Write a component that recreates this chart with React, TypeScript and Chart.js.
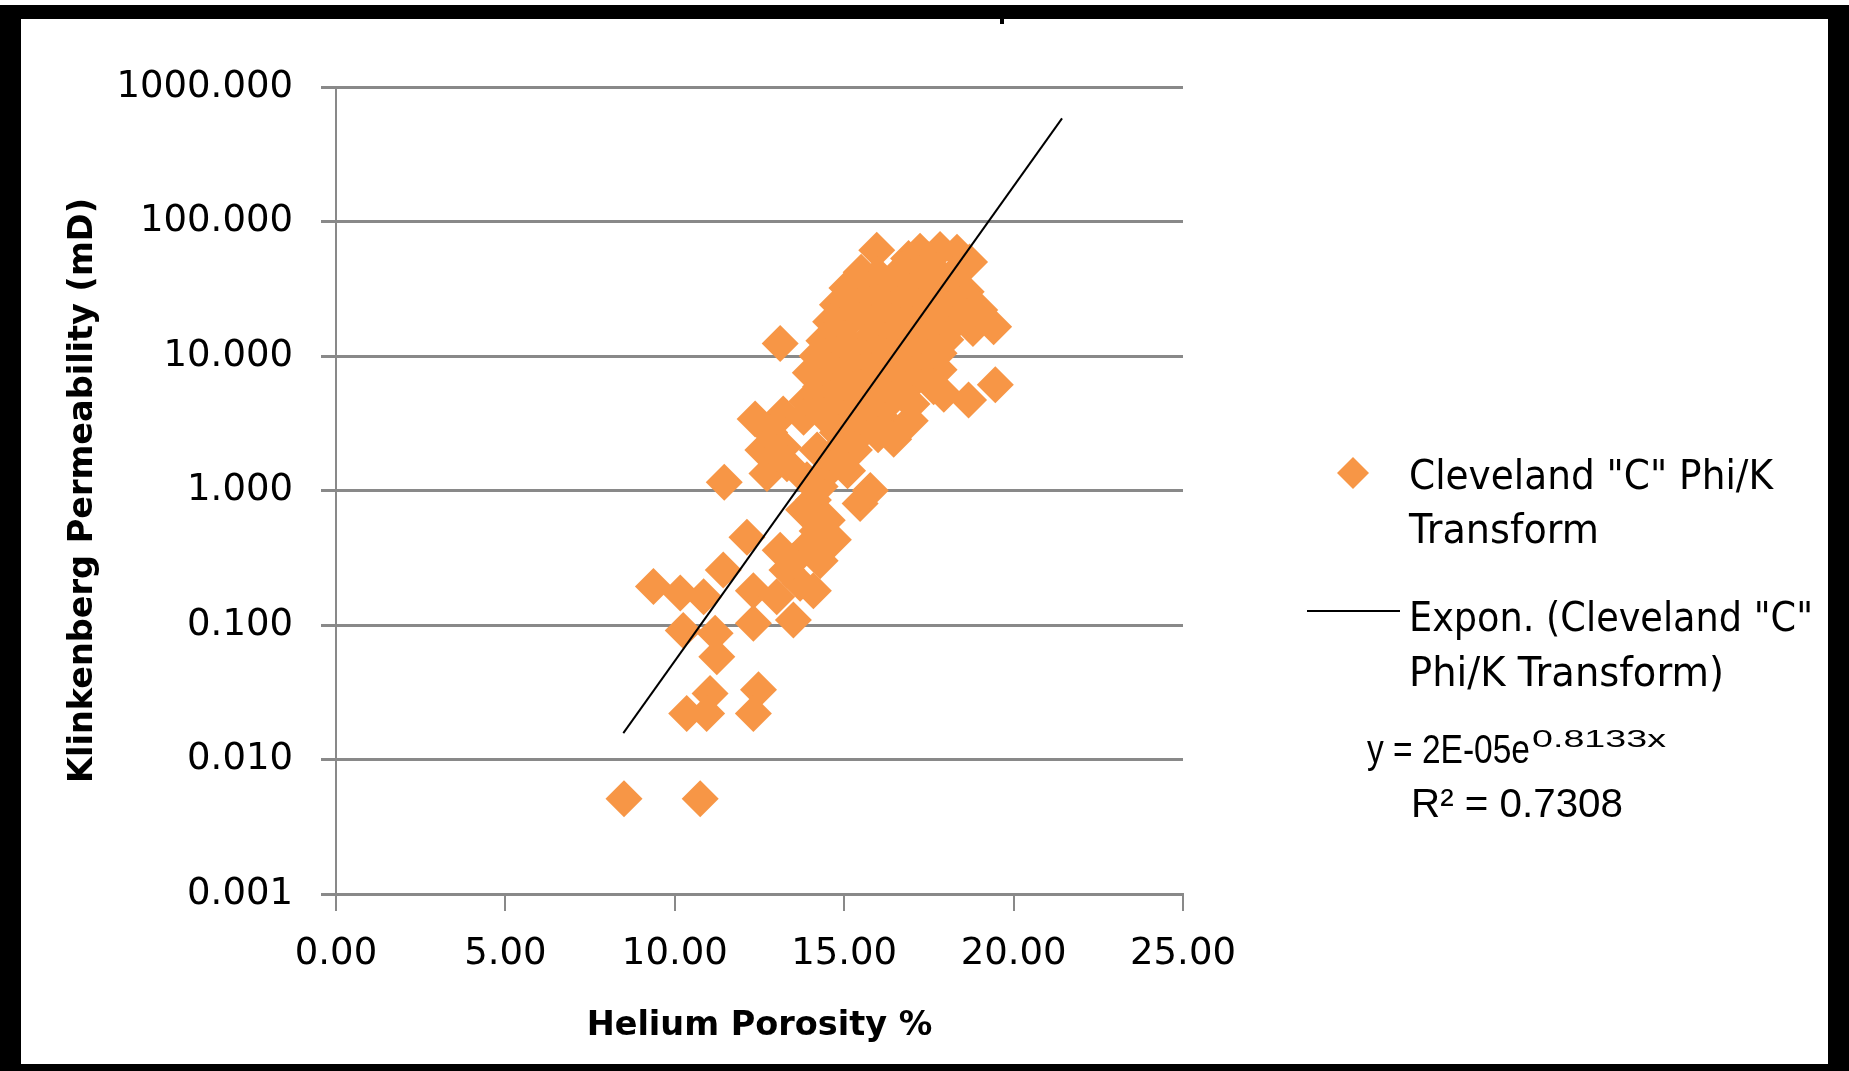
import React, { useEffect, useRef } from "react";
import { Chart, registerables } from "chart.js";

Chart.register(...registerables);

// ---- data ----
const porosity = [
  // upper cluster
  15.96, 17.24, 17.83, 18.33,
  16.9, 17.5, 18.7,
  15.5, 16.0, 16.7, 17.2, 17.7, 18.2,
  15.08, 15.7, 16.3, 16.9, 17.5, 18.1, 18.6,
  14.8, 15.4, 16.0, 16.6, 17.2, 17.8, 18.4, 19.0,
  14.6, 15.2, 15.8, 16.4, 17.0, 17.6, 18.2, 18.8, 19.41, 18.62,
  14.4, 15.0, 15.6, 16.2, 16.8, 17.4, 18.0, 13.11,
  14.2, 14.8, 15.4, 16.0, 16.6, 17.2, 17.8,
  14.0, 14.6, 15.2, 15.8, 16.4, 17.0, 17.8,
  14.3, 14.9, 15.5, 16.1, 16.8, 17.64, 17.94, 19.46,
  13.9, 14.6, 15.2, 15.8, 16.4, 17.0, 18.67,
  12.37, 13.2, 13.8, 14.4, 15.0, 15.6, 16.2, 16.95,
  12.8, 14.8, 15.4, 16.0, 16.46,
  12.6, 13.2, 14.2, 14.7, 15.3,
  12.72, 13.31, 13.01, 14.6, 15.1,
  // lower cluster
  8.5, 10.75, 9.37, 10.16, 10.85, 10.25, 11.19, 11.24, 11.04, 10.35, 10.94,
  12.47, 12.32, 12.13, 11.43, 12.32, 12.32, 13.5, 13.01, 13.31, 13.7, 14.09,
  14.68, 14.29, 13.9, 13.5, 13.11, 14.09, 14.29, 13.8, 15.47, 15.77, 11.46,
  14.5, 13.9, 14.2,
];
const permeability = [
  61, 60, 62, 59,
  53, 52, 50,
  42, 40, 44, 41, 43, 40,
  32, 31, 33, 30, 32, 31, 30,
  24, 23, 25, 24, 23, 25, 24, 22,
  18, 18.5, 17.5, 18, 17, 18, 17, 16, 16.5, 19.6,
  13, 13.5, 12.5, 13, 13.5, 12.8, 13.2, 12.4,
  10, 10.2, 9.8, 10.3, 9.7, 10, 10.5,
  7.5, 7.8, 7.4, 7.7, 7.6, 7.3, 7.9,
  5.9, 6.0, 5.8, 6.1, 5.6, 5.9, 5.2, 6.1,
  4.6, 4.8, 4.7, 4.5, 4.7, 4.4, 4.7,
  3.4, 3.7, 3.5, 3.6, 3.4, 3.5, 3.3, 3.3,
  2.7, 2.7, 2.5, 2.6, 2.4,
  2.0, 2.1, 2.0, 1.9, 2.0,
  1.34, 1.58, 1.9, 1.45, 1.4,
  0.0051, 0.0051, 0.193, 0.173, 0.162, 0.091, 0.087, 0.058, 0.031, 0.022, 0.022,
  0.033, 0.022, 0.45, 0.256, 0.18, 0.103, 0.109, 0.162, 0.256, 0.204, 0.18,
  0.43, 0.30, 0.38, 0.30, 0.36, 0.85, 1.07, 0.72, 0.80, 1.0, 1.15,
  0.6, 1.2, 0.5,
];
const trendPorosity = [8.48, 21.43];
const trendPermeability = [0.0157, 585];

const xTickValues = [0, 5, 10, 15, 20, 25];
const yTickValues = [0.001, 0.01, 0.1, 1, 10, 100, 1000];

const xTitle = "Helium Porosity %";
const yTitle = "Klinkenberg Permeability (mD)";
const seriesLegendLines = ['Cleveland "C" Phi/K', "Transform"];
const trendLegendLines = ['Expon. (Cleveland "C"', "Phi/K Transform)"];
const equationMain = "y = 2E-05e";
const equationExp = "0.8133x";
const rSquaredText = "R\u00B2 = 0.7308";

const ORANGE = "#F79646";
const GRID = "#898989";
const W = 1849;
const H = 1071;

function fitText(ctx: CanvasRenderingContext2D, text: string, x: number, y: number, targetW: number) {
  const w = ctx.measureText(text).width;
  const s = w > 0 ? targetW / w : 1;
  ctx.save();
  ctx.translate(x, y);
  ctx.scale(s, 1);
  ctx.textAlign = "left";
  ctx.textBaseline = "alphabetic";
  ctx.fillText(text, 0, 0);
  ctx.restore();
}

const framePlugin = {
  id: "frame",
  beforeDraw(chart: any) {
    const ctx = chart.ctx;
    ctx.save();
    ctx.fillStyle = "#ffffff";
    ctx.fillRect(0, 0, W, H);
    ctx.restore();
  },
  afterDraw(chart: any) {
    const ctx = chart.ctx;
    ctx.save();
    ctx.fillStyle = "#000";
    ctx.fillRect(0, 5, W, 14);
    ctx.fillRect(0, 5, 21, H - 5);
    ctx.fillRect(1828, 5, 21, H - 5);
    ctx.fillRect(0, 1064, W, 7);
    ctx.fillRect(1000, 19, 4, 5);
    ctx.restore();
  },
};

const legendPlugin = {
  id: "customLegend",
  afterDraw(chart: any) {
    const ctx = chart.ctx;
    ctx.save();
    // marker
    const cx = 1353, cy = 473, r = 16;
    ctx.fillStyle = ORANGE;
    ctx.beginPath();
    ctx.moveTo(cx - r, cy);
    ctx.lineTo(cx, cy - r);
    ctx.lineTo(cx + r, cy);
    ctx.lineTo(cx, cy + r);
    ctx.closePath();
    ctx.fill();
    // trend line sample
    ctx.strokeStyle = "#000";
    ctx.lineWidth = 2;
    ctx.beginPath();
    ctx.moveTo(1307, 611);
    ctx.lineTo(1400, 611);
    ctx.stroke();

    ctx.fillStyle = "#000";
    ctx.font = '40px "DejaVu Sans"';
    fitText(ctx, seriesLegendLines[0], 1409, 489, 364);
    fitText(ctx, seriesLegendLines[1], 1409, 543, 190);
    fitText(ctx, trendLegendLines[0], 1409, 631, 404);
    fitText(ctx, trendLegendLines[1], 1409, 686, 315);

    ctx.font = '40px "Liberation Sans"';
    fitText(ctx, equationMain, 1367, 763, 163);
    fitText(ctx, rSquaredText, 1411, 817, 212);
    ctx.font = '23px "Liberation Sans"';
    fitText(ctx, equationExp, 1532, 747, 134);
    ctx.restore();
  },
};

export default function App() {
  const ref = useRef<HTMLCanvasElement | null>(null);

  useEffect(() => {
    document.body.style.margin = "0";
    const canvas = ref.current;
    if (!canvas) return;
    const scatterData = porosity.map((x, i) => ({ x, y: permeability[i] }));
    const trendData = trendPorosity.map((x, i) => ({ x, y: trendPermeability[i] }));

    const chart = new Chart(canvas, {
      type: "scatter",
      data: {
        datasets: [
          {
            label: trendLegendLines.join(" "),
            data: trendData,
            showLine: true,
            borderColor: "#000",
            borderWidth: 2,
            pointRadius: 0,
            pointHoverRadius: 0,
            fill: false,
            order: 0,
          } as any,
          {
            label: seriesLegendLines.join(" "),
            data: scatterData,
            pointStyle: "rectRot",
            pointRadius: 18.5,
            pointHoverRadius: 18.5,
            backgroundColor: ORANGE,
            borderColor: ORANGE,
            borderWidth: 0,
            order: 1,
          } as any,
        ],
      },
      options: {
        responsive: false,
        animation: false,
        events: [],
        layout: { padding: { left: 0, top: 87, right: W - 1183, bottom: 0 } },
        plugins: {
          legend: { display: false },
          tooltip: { enabled: false },
          title: { display: false },
        },
        scales: {
          x: {
            type: "linear",
            position: "bottom",
            min: 0,
            max: 25,
            afterBuildTicks: (s: any) => {
              s.ticks = xTickValues.map((v) => ({ value: v }));
            },
            afterFit: (s: any) => {
              s.height = H - 894;
            },
            ticks: {
              autoSkip: false,
              maxRotation: 0,
              padding: 21,
              color: "#000",
              font: { family: "DejaVu Sans", size: 37 },
              callback: (v: any) => Number(v).toFixed(2),
            },
            grid: { drawOnChartArea: false, drawTicks: true, tickLength: 17, color: GRID, lineWidth: 2 },
            border: { display: true, color: GRID, width: 3 },
            title: {
              display: true,
              text: xTitle,
              color: "#000",
              font: { family: "DejaVu Sans", size: 33.5, weight: "bold", lineHeight: 1.2 },
              padding: { top: 0, bottom: 25 },
            },
          },
          y: {
            type: "logarithmic",
            position: "left",
            min: 0.001,
            max: 1000,
            afterBuildTicks: (s: any) => {
              s.ticks = yTickValues.map((v) => ({ value: v }));
            },
            afterFit: (s: any) => {
              s.width = 336;
            },
            ticks: {
              autoSkip: false,
              padding: 28,
              color: "#000",
              font: { family: "DejaVu Sans", size: 37 },
              callback: (v: any) => Number(v).toFixed(3),
            },
            grid: { drawOnChartArea: true, drawTicks: true, tickLength: 15, color: GRID, lineWidth: 3 },
            border: { display: true, color: GRID, width: 2 },
            title: {
              display: true,
              text: yTitle,
              color: "#000",
              font: { family: "DejaVu Sans", size: 33.5, weight: "bold", lineHeight: 1.2 },
              padding: { top: 63, bottom: 0 },
            },
          },
        },
      } as any,
      plugins: [framePlugin, legendPlugin],
    });
    return () => chart.destroy();
  }, []);

  return (
    <div style={{ width: W, height: H, overflow: "hidden" }}>
      <canvas ref={ref} width={W} height={H} style={{ display: "block", width: W, height: H }} />
    </div>
  );
}
